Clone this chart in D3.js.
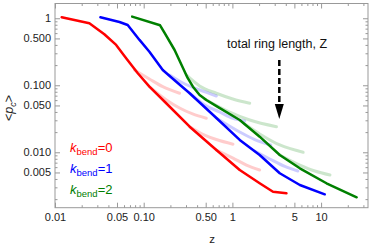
<!DOCTYPE html>
<html>
<head>
<meta charset="utf-8">
<script src="https://cdn.jsdelivr.net/npm/d3@7"></script>
<style>
body { margin: 0; background: #fff; }
svg text { font-family: 'Liberation Sans', Arial, sans-serif; }
.axis text { font-size: 11px; fill: #222; }
.axis path { display: none; }
.axis line { stroke: #999; }
</style>
</head>
<body>
<svg id="chart" width="374" height="247"></svg>
<script>
// main curves, [z, <p_c>]
const red = [[0.0119,1.035],[0.0244,0.842],[0.036,0.577],[0.0489,0.40],[0.0634,0.253],[0.0858,0.151],[0.116,0.0953],[0.1795,0.0539],[0.33,0.0241],[0.66,0.0108],[1.21,0.00544],[2.03,0.00345],[2.87,0.00258],[4.07,0.00244]];
const blue = [[0.0325,1.035],[0.0533,0.88],[0.066,0.794],[0.0897,0.475],[0.116,0.317],[0.164,0.169],[0.233,0.113],[0.33,0.076],[0.66,0.0325],[1.21,0.0153],[2.03,0.0091],[3.42,0.00486],[5.76,0.00325],[11.0,0.00236]];
const green = [[0.0741,1.057],[0.153,0.786],[0.172,0.604],[0.223,0.336],[0.313,0.1285],[0.359,0.0953],[0.427,0.0717],[0.509,0.0604],[0.683,0.0475],[1.21,0.0303],[2.03,0.0171],[3.42,0.00912],[5.76,0.00577],[11.5,0.00345],[25.2,0.00213]];

// faint curves for shorter rings
const redFaint = [
  [[0.0787,0.169],[0.116,0.124],[0.164,0.0953],[0.254,0.076]],
  [[0.116,0.0953],[0.180,0.0604],[0.254,0.0458],[0.356,0.0373],[0.508,0.0322]],
  [[0.33,0.0241],[0.486,0.0181],[0.659,0.0155],[1.016,0.0132]],
  [[0.659,0.0108],[1.016,0.0082],[1.44,0.00646],[2.03,0.00544]]
];
const blueFaint = [
  [[0.196,0.1425],[0.277,0.108],[0.427,0.0851],[0.659,0.0692]],
  [[0.33,0.076],[0.486,0.0508],[0.718,0.0399],[1.016,0.032],[1.377,0.0293]],
  [[0.659,0.0325],[1.209,0.0201],[1.786,0.0155],[2.71,0.01285]],
  [[1.786,0.01045],[2.64,0.00794],[3.90,0.00614],[5.47,0.00526]]
];
const greenFaint = [
  [[0.302,0.1425],[0.427,0.0977],[0.659,0.076],[1.01,0.0625],[1.568,0.0539]],
  [[0.486,0.0625],[0.932,0.0399],[1.568,0.0303],[3.14,0.0241]],
  [[1.377,0.0264],[2.03,0.0188],[3.42,0.01285],[6.28,0.0100]],
  [[3.42,0.00912],[5.76,0.00646],[8.51,0.00526],[12.6,0.00458]]
];

const xTicks = [0.01,0.05,0.1,0.5,1,5,10];
const xTickLabels = ['0.01','0.05','0.10','0.50','1','5','10'];
const xMinor = [0.02,0.03,0.04,0.06,0.07,0.08,0.09,0.2,0.3,0.4,0.6,0.7,0.8,0.9,2,3,4,6,7,8,9,20,30];
const yTicks = [1,0.5,0.1,0.05,0.01,0.005];
const yTickLabels = ['1','0.500','0.100','0.050','0.010','0.005'];
const yMinor = [0.002,0.003,0.004,0.006,0.007,0.008,0.009,0.02,0.03,0.04,0.06,0.07,0.08,0.09,0.2,0.3,0.4,0.6,0.7,0.8,0.9];

const kValues = ['0','1','2'];
const colors = ['#ff0000','#0000ff','#008000'];

const frame = {left: 55, right: 368, top: 3.5, bottom: 207.7};

const svg = d3.select('#chart');

const x = d3.scaleLog().domain([0.01, 33.8]).range([frame.left, frame.right]);
const y = d3.scaleLog().domain([0.00149, 1.66]).range([frame.bottom, frame.top]);

// frame
svg.append('rect')
  .attr('x', frame.left).attr('y', frame.top)
  .attr('width', frame.right - frame.left).attr('height', frame.bottom - frame.top)
  .attr('fill', 'none').attr('stroke', '#999').attr('stroke-width', 1);

const fmtX = (d) => xTickLabels[xTicks.indexOf(d)];
const fmtY = (d) => yTickLabels[yTicks.indexOf(d)];

svg.append('g').attr('class', 'axis')
  .attr('transform', `translate(0,${frame.bottom})`)
  .call(d3.axisBottom(x).tickValues(xTicks).tickFormat(fmtX).tickSize(-5).tickPadding(6));
svg.append('g').attr('class', 'axis')
  .attr('transform', `translate(0,${frame.bottom})`)
  .call(d3.axisBottom(x).tickValues(xMinor).tickFormat('').tickSize(-2.5));
svg.append('g').attr('class', 'axis')
  .attr('transform', `translate(0,${frame.top})`)
  .call(d3.axisTop(x).tickValues(xTicks).tickFormat('').tickSize(-5));
svg.append('g').attr('class', 'axis')
  .attr('transform', `translate(0,${frame.top})`)
  .call(d3.axisTop(x).tickValues(xMinor).tickFormat('').tickSize(-2.5));

svg.append('g').attr('class', 'axis')
  .attr('transform', `translate(${frame.left},0)`)
  .call(d3.axisLeft(y).tickValues(yTicks).tickFormat(fmtY).tickSize(-5).tickPadding(4));
svg.append('g').attr('class', 'axis')
  .attr('transform', `translate(${frame.left},0)`)
  .call(d3.axisLeft(y).tickValues(yMinor).tickFormat('').tickSize(-2.5));
svg.append('g').attr('class', 'axis')
  .attr('transform', `translate(${frame.right},0)`)
  .call(d3.axisRight(y).tickValues(yTicks).tickFormat('').tickSize(-5));
svg.append('g').attr('class', 'axis')
  .attr('transform', `translate(${frame.right},0)`)
  .call(d3.axisRight(y).tickValues(yMinor).tickFormat('').tickSize(-2.5));

const line = d3.line()
  .x((d) => x(d[0]))
  .y((d) => y(d[1]));
const smooth = d3.line()
  .x((d) => x(d[0]))
  .y((d) => y(d[1]))
  .curve(d3.curveMonotoneX);

const plot = svg.append('g');

[redFaint, blueFaint, greenFaint].forEach((set, i) => {
  plot.selectAll(null)
    .data(set)
    .enter().append('path')
    .attr('d', smooth)
    .attr('fill', 'none')
    .attr('stroke', colors[i])
    .attr('stroke-opacity', 0.2)
    .attr('stroke-width', 3)
    .attr('stroke-linecap', 'round');
});

[red, blue, green].forEach((d, i) => {
  plot.append('path')
    .datum(d)
    .attr('d', line)
    .attr('fill', 'none')
    .attr('stroke', colors[i])
    .attr('stroke-width', 2.5)
    .attr('stroke-linejoin', 'round')
    .attr('stroke-linecap', 'round');
});

// legend
const legend = svg.append('g');
kValues.forEach((k, i) => {
  const t = legend.append('text')
    .attr('x', 70)
    .attr('y', 151.5 + i * 21)
    .attr('fill', colors[i])
    .style('font-size', '13px');
  t.append('tspan').style('font-style', 'italic').text('k');
  t.append('tspan').attr('dy', 3).style('font-size', '9.5px').text('bend');
  t.append('tspan').attr('dy', -3).text(`=${k}`);
});

// axis labels
const yl = svg.append('text')
  .attr('transform', 'translate(13,108) rotate(-90)')
  .attr('text-anchor', 'middle')
  .style('font-size', '12.5px')
  .attr('fill', '#222');
yl.append('tspan').text('<');
yl.append('tspan').style('font-style', 'italic').text('p');
yl.append('tspan').attr('dy', 2.5).style('font-size', '9px').style('font-style', 'italic').text('c');
yl.append('tspan').attr('dy', -2.5).text('>');

svg.append('text')
  .attr('x', 212).attr('y', 243)
  .attr('text-anchor', 'middle')
  .style('font-size', '11.5px')
  .attr('fill', '#222')
  .text('z');

// annotation
svg.append('text')
  .attr('x', 227).attr('y', 48)
  .style('font-size', '12.5px')
  .attr('fill', '#111')
  .text('total ring length, Z');

svg.append('line')
  .attr('x1', 279.3).attr('y1', 60)
  .attr('x2', 279.3).attr('y2', 106)
  .attr('stroke', '#000')
  .attr('stroke-width', 2.5)
  .attr('stroke-dasharray', '6,3');
svg.append('path')
  .attr('d', 'M274.8,104 L283.8,104 L279.3,119 Z')
  .attr('fill', '#000');
</script>
</body>
</html>
